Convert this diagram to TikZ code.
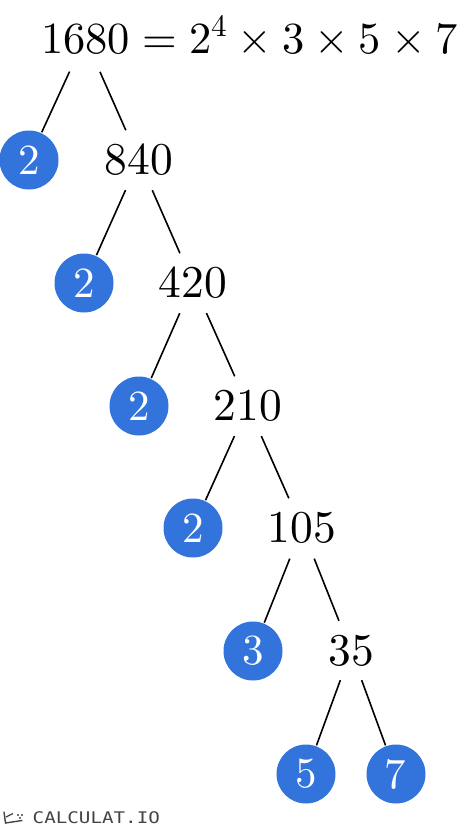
\documentclass[tikz,border=0pt]{standalone}
\usepackage{fontspec}
\usepackage{unicode-math}
\setmathfont{Latin Modern Math}
\newfontfamily\logofont{DejaVu Sans Mono}
\definecolor{factorblue}{HTML}{3273DC}
\definecolor{logogray}{HTML}{444444}
\begin{document}
\begin{tikzpicture}[x=1pt,y=-1pt,
  numtext/.style={inner sep=0pt, font=\fontsize{45.5}{54}\selectfont},
  prime/.style={circle, fill=factorblue, minimum size=59pt, inner sep=0pt,
    text=white, font=\fontsize{43}{50}\selectfont},
  branch/.style={line width=1.6pt, black, shorten <=33pt},
  tocircle/.style={shorten >=30.5pt},
  totext/.style={shorten >=32.5pt}]
\useasboundingbox (0,0) rectangle (474,835);
% title
\node[inner sep=0pt, font=\fontsize{44.5}{54}\selectfont, anchor=base west] (title) at (41,53) {$1680 = 2^4 \times 3 \times 5 \times 7$};
\coordinate (n1680) at (85,38);
% tree
\node[prime] (p1) at (29,160) {$2$};
\node[numtext] (n840) at (139,160) {$840$};
\node[prime] (p2) at (84,283) {$2$};
\node[numtext] (n420) at (193,283) {$420$};
\node[prime] (p3) at (139,406) {$2$};
\node[numtext] (n210) at (248,406) {$210$};
\node[prime] (p4) at (193,528) {$2$};
\node[numtext] (n105) at (302,528) {$105$};
\node[prime] (p5) at (253,651) {$3$};
\node[numtext] (n35) at (351,651) {$35$};
\node[prime] (p6) at (306,774) {$5$};
\node[prime] (p7) at (396,774) {$7$};
% branches
\draw[branch, tocircle, shorten <=37pt] (n1680) -- (p1.center);
\draw[branch, totext, shorten <=37pt] (n1680) -- (n840.center);
\draw[branch, tocircle] (n840.center) -- (p2.center);
\draw[branch, totext] (n840.center) -- (n420.center);
\draw[branch, tocircle] (n420.center) -- (p3.center);
\draw[branch, totext] (n420.center) -- (n210.center);
\draw[branch, tocircle] (n210.center) -- (p4.center);
\draw[branch, totext] (n210.center) -- (n105.center);
\draw[branch, tocircle] (n105.center) -- (p5.center);
\draw[branch, totext] (n105.center) -- (n35.center);
\draw[branch, tocircle, shorten <=31pt] (n35.center) -- (p6.center);
\draw[branch, tocircle, shorten <=31pt] (n35.center) -- (p7.center);
% logo
\node[anchor=west, inner sep=0pt, text=logogray, xscale=1.2,
  font=\logofont\fontsize{16}{18}\selectfont] (logo) at (32.5,817.5) {CALCULAT.IO};
\draw[logogray, line width=1.4pt, line cap=round] (4,812) -- (5.5,823) -- (22,820.5);
\draw[logogray, line width=1.2pt] (6,817) -- (13,813.5);
\fill[logogray] (18,815) circle (1.1pt) (22,815) circle (1.1pt) (20,818) circle (1.1pt);
\end{tikzpicture}
\end{document}
